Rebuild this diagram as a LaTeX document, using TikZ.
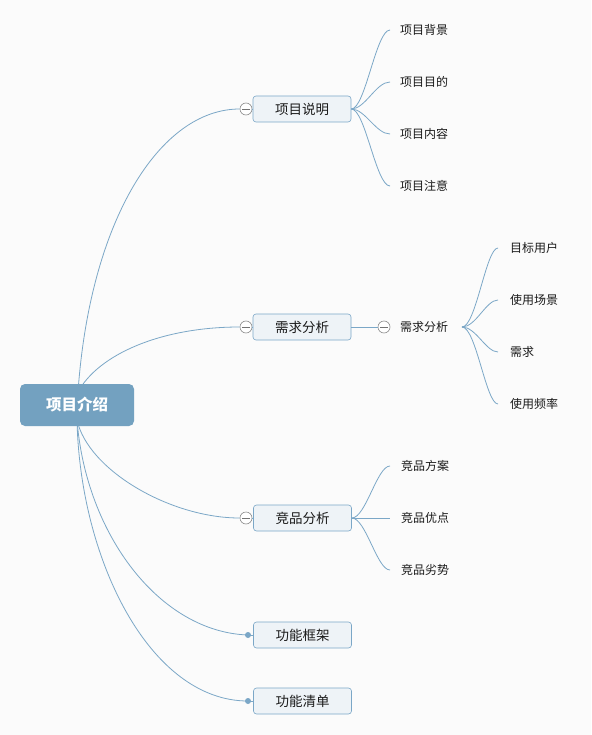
\documentclass[tikz,border=0pt]{standalone}
\usepackage{fontspec}
\newfontfamily\cjk{Noto Sans CJK SC}
\definecolor{lnc}{HTML}{7BA7C7}
\definecolor{rootc}{HTML}{73A1C0}
\definecolor{boxf}{HTML}{EEF3F7}
\definecolor{bgc}{HTML}{FBFBFB}
\definecolor{txc}{HTML}{1A1A1A}
\begin{document}
\begin{tikzpicture}[x=1pt,y=-1pt,
  rootbox/.style={fill=rootc,rounded corners=5pt,minimum width=114pt,minimum height=42pt,inner sep=0pt,text=white,font=\cjk\bfseries\fontsize{15.5}{17}\selectfont},
  topicbox/.style={draw=lnc,fill=boxf,rounded corners=3pt,minimum width=98pt,minimum height=26pt,inner sep=0pt,text=txc,font=\cjk\fontsize{13.5}{15}\selectfont,line width=0.6pt},
  leaf/.style={anchor=west,inner sep=0pt,text=txc,font=\cjk\fontsize{12}{14}\selectfont},
  collapse/.style={circle,draw=black!45,fill=white,minimum size=12pt,inner sep=0pt,line width=0.6pt,
     path picture={\draw[black!55,line width=0.7pt] ([xshift=-4pt]path picture bounding box.center) -- ([xshift=4pt]path picture bounding box.center);}},
  dot/.style={circle,fill=lnc,minimum size=6pt,inner sep=0pt},
  conn/.style={draw=lnc,line width=0.8pt}
]
\fill[bgc] (0,0) rectangle (591,735);
\useasboundingbox (0,0) rectangle (591,735);

% root connectors (drawn first, behind root)
\coordinate (rt) at (78,392);
\coordinate (rb) at (77,420);
\node[collapse] (c1) at (246,109) {};
\node[collapse] (c2) at (246,327) {};
\node[collapse] (c3) at (246,518) {};
\node[dot] (d4) at (248,635) {};
\node[dot] (d5) at (248,701) {};

\draw[conn] (rt) .. controls (90,220) and (160,109) .. (c1.west);
\draw[conn] (rt) .. controls (98,355) and (160,327) .. (c2.west);
\draw[conn] (rb) .. controls (88,470) and (170,518) .. (c3.west);
\draw[conn] (rb) .. controls (86,535) and (160,632) .. (d4.center);
\draw[conn] (rb) .. controls (80,560) and (150,701) .. (d5.center);

\node[rootbox] (root) at (77,405) {项目介绍};

\node[topicbox] (t1) at (302,109) {项目说明};
\node[topicbox] (t2) at (302,327) {需求分析};
\node[topicbox] (t3) at (302.5,518) {竞品分析};
\node[topicbox] (t4) at (302.5,635) {功能框架};
\node[topicbox] (t5) at (302.5,701) {功能清单};

\draw[conn] (c1.east) -- (t1.west);
\draw[conn] (c2.east) -- (t2.west);
\draw[conn] (c3.east) -- (t3.west);
\draw[conn] (d4.center) -- (t4.west);
\draw[conn] (d5.center) -- (t5.west);

% 项目说明 leaves
\node[leaf] (a1) at (400,30) {项目背景};
\node[leaf] (a2) at (400,82) {项目目的};
\node[leaf] (a3) at (400,134) {项目内容};
\node[leaf] (a4) at (400,186) {项目注意};
\foreach \n in {a1,a2,a3,a4}{
  \draw[conn] (t1.east) .. controls ++(14,0) and ([xshift=-24pt]\n.west) .. ([xshift=-10pt]\n.west);
}

% 需求分析 subtree
\node[collapse] (c6) at (384,327) {};
\draw[conn] (t2.east) -- (c6.west);
\node[leaf] (m) at (400,327) {需求分析};
\node[leaf] (b1) at (510,248) {目标用户};
\node[leaf] (b2) at (510,300) {使用场景};
\node[leaf] (b3) at (510,352) {需求};
\node[leaf] (b4) at (510,404) {使用频率};
\coordinate (ms) at (462,327);
\foreach \n in {b1,b2,b3,b4}{
  \draw[conn] (ms) .. controls ++(14,0) and ([xshift=-24pt]\n.west) .. ([xshift=-12pt]\n.west);
}

% 竞品分析 leaves
\node[leaf] (e1) at (401,466) {竞品方案};
\node[leaf] (e2) at (401,518) {竞品优点};
\node[leaf] (e3) at (401,570) {竞品劣势};
\draw[conn] (t3.east) .. controls ++(14,0) and ([xshift=-24pt]e1.west) .. ([xshift=-11pt]e1.west);
\draw[conn] (t3.east) -- ([xshift=-11pt]e2.west);
\draw[conn] (t3.east) .. controls ++(14,0) and ([xshift=-24pt]e3.west) .. ([xshift=-11pt]e3.west);
\end{tikzpicture}
\end{document}
